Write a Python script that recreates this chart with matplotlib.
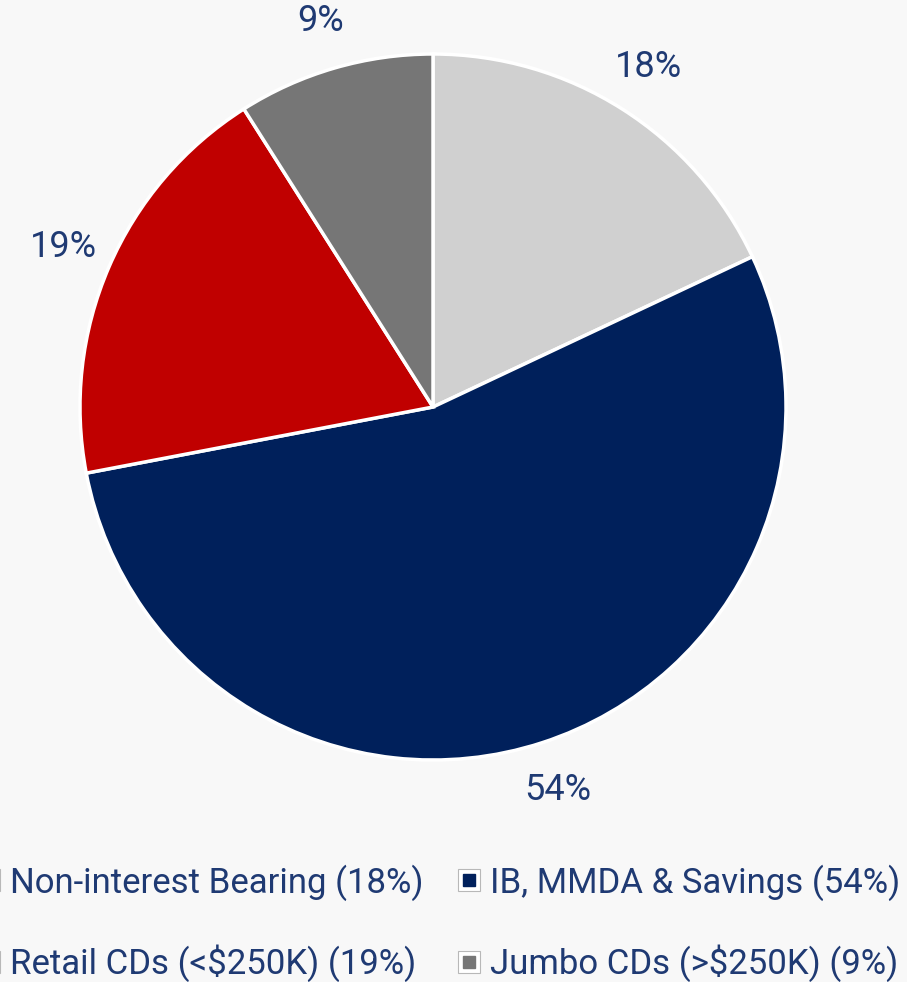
import matplotlib.pyplot as plt
from matplotlib.lines import Line2D
from matplotlib.legend_handler import HandlerTuple

# deposit mix
labels = ["Non-interest Bearing", "IB, MMDA & Savings", "Retail CDs (<$250K)", "Jumbo CDs (>$250K)"]
shares = [18, 54, 19, 9]
colors = ["#d0d0d0", "#00205b", "#c00000", "#767676"]
text_color = "#1f3a73"

plt.rcParams['font.family'] = ['Roboto', 'DejaVu Sans']

W, H = 907, 982
cx, cy, R = 433, 407, 353  # pie centre / radius in pixels

fig = plt.figure(figsize=(W / 100, H / 100), dpi=100)
fig.patch.set_facecolor("#f8f8f8")
ax = fig.add_axes([0, 0, 1, 1])
ax.set_facecolor("#f8f8f8")

wedges, texts = ax.pie(
    shares,
    colors=colors,
    labels=[f"{s}%" for s in shares],
    labeldistance=1.14,
    startangle=90,
    counterclock=False,
    radius=1,
    wedgeprops=dict(edgecolor="white", linewidth=2.5),
    textprops=dict(color=text_color, fontsize=26),
)
for t in texts:
    t.set_horizontalalignment("center")

ax.set_xlim(-cx / R, (W - cx) / R)
ax.set_ylim(-(H - cy) / R, cy / R)
ax.set_aspect("auto")
ax.axis("off")

handles = []
for c in colors:
    outer = Line2D([], [], marker="s", linestyle="none", markersize=16,
                   markerfacecolor="white", markeredgecolor="#b8b8b8", markeredgewidth=0.8)
    inner = Line2D([], [], marker="s", linestyle="none", markersize=8,
                   markerfacecolor=c, markeredgecolor=c)
    handles.append((outer, inner))

leg_labels = [f"{l} ({s}%)" for l, s in zip(labels, shares)]
# legend fills column-major, reorder so rows read left to right
order = [0, 2, 1, 3]
leg = fig.legend([handles[i] for i in order], [leg_labels[i] for i in order],
                 handler_map={tuple: HandlerTuple(ndivide=1)},
                 ncol=2, loc="lower left", bbox_to_anchor=(-0.052, -0.025),
                 frameon=False, fontsize=25, labelcolor=text_color,
                 handlelength=0.7, handletextpad=0.25, columnspacing=0.95,
                 labelspacing=1.27, borderaxespad=0.3)

fig.savefig("out.png", dpi=100, facecolor=fig.get_facecolor())
